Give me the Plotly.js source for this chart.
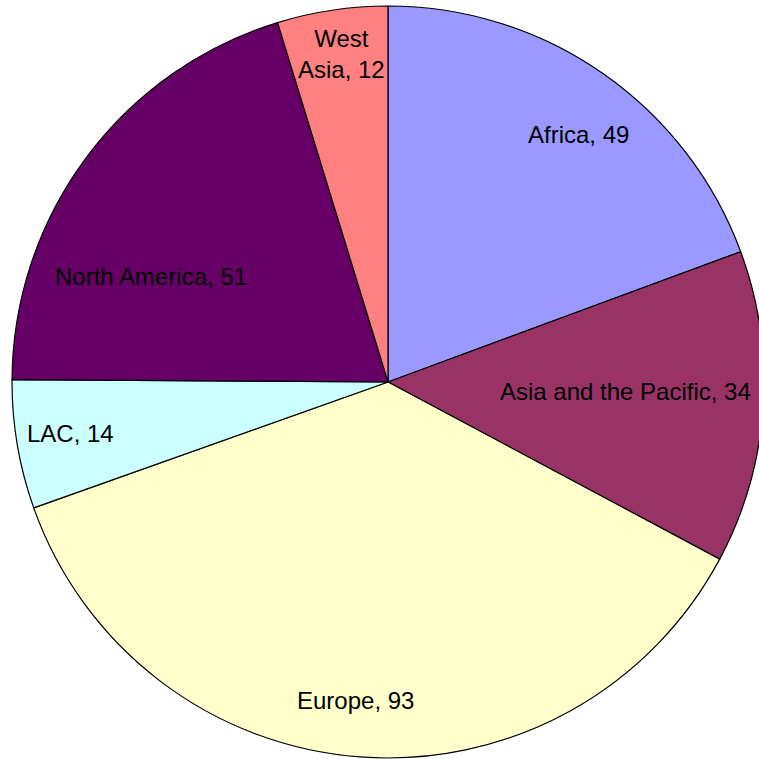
<!DOCTYPE html>
<html>
<head>
<meta charset="utf-8">
<script src="https://cdn.plot.ly/plotly-3.0.1.min.js"></script>
<style>
html,body{margin:0;padding:0;overflow:hidden;background:#fff;}
#chart{width:776px;height:759px;}
</style>
</head>
<body>
<div id="chart"></div>
<script>
const regions = ["Africa", "Asia and the Pacific", "Europe", "LAC", "North America", "West Asia"];
const counts = [49, 34, 93, 14, 51, 12];
const colors = ["#9999FF", "#993366", "#FFFFCC", "#CCFFFF", "#660066", "#FF8080"];

const W = 776, H = 759;
// label centres in page pixels (layout only)
const labelPos = [[578, 134], [625, 391], [355, 700], [70, 433], [151, 276], [341, 54]];
const labelBreak = [false, false, false, false, false, true];

const annotations = regions.map((r, i) => {
  const name = labelBreak[i] ? r.replace(' ', '<br>') : r;
  return {
    text: name + ', ' + counts[i],
    x: labelPos[i][0] / W,
    y: 1 - labelPos[i][1] / H,
    xref: 'paper', yref: 'paper',
    xanchor: 'center', yanchor: 'middle',
    showarrow: false,
    align: 'center',
    font: {family: 'Liberation Sans, Arial, sans-serif', size: 24, color: '#000000'}
  };
});

Plotly.newPlot('chart', [{
  type: 'pie',
  labels: regions,
  values: counts,
  sort: false,
  direction: 'clockwise',
  rotation: 0,
  marker: {colors: colors, line: {color: '#000000', width: 1.2}},
  textinfo: 'none',
  hoverinfo: 'none',
  domain: {x: [12/776, 764/776], y: [1/759, 753/759]}
}], {
  width: W,
  height: H,
  margin: {l: 0, r: 0, t: 0, b: 0},
  showlegend: false,
  paper_bgcolor: '#ffffff',
  annotations: annotations
}, {staticPlot: true});
</script>
</body>
</html>
